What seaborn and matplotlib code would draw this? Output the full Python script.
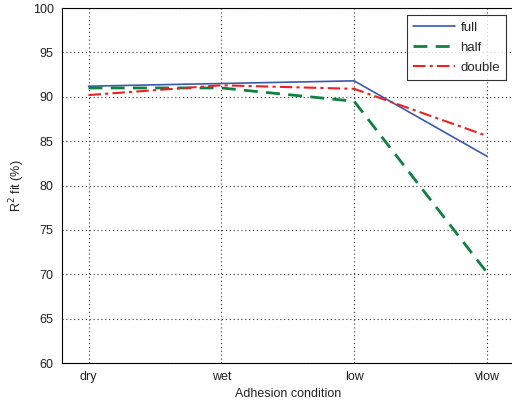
import pandas as pd
import matplotlib
matplotlib.use("Agg")
import matplotlib.pyplot as plt
import seaborn as sns

conditions = ["dry", "wet", "low", "vlow"]
full = [91.2, 91.5, 91.8, 83.3]
half = [91.0, 91.0, 89.5, 70.2]
double = [90.2, 91.3, 90.9, 85.6]

rows = []
for name, vals in [("full", full), ("half", half), ("double", double)]:
    for i, v in enumerate(vals):
        rows.append({"pos": i, "cond": conditions[i], "series": name, "value": v})
df = pd.DataFrame(rows)

sns.set_style("white")
plt.rcParams["font.family"] = ["Liberation Sans", "DejaVu Sans"]
plt.rcParams["font.size"] = 9

fig = plt.figure(figsize=(5.12, 4.03), dpi=100)
ax = fig.add_axes([0.121, 0.099, 0.882, 0.881])

palette = {"full": "#3a58b0", "half": "#0f8040", "double": "#ee2020"}
widths = {"full": 1.2, "half": 2.0, "double": 1.5}
styles = {"full": "-", "half": (0, (5, 3)), "double": (0, (6, 2, 1.5, 2))}

for name in ["full", "half", "double"]:
    sub = df[df["series"] == name]
    sns.lineplot(data=sub, x="pos", y="value", ax=ax, color=palette[name],
                 linewidth=widths[name], linestyle=styles[name], label=name)

ax.set_xlim(-0.2, 3.2)
ax.set_ylim(60, 100)
ax.set_xticks(range(len(conditions)))
ax.set_xticklabels(conditions)
ax.set_yticks(range(60, 101, 5))
ax.grid(True, color="#333333", linestyle=(0, (1, 2.5)), linewidth=0.8)
ax.tick_params(direction="in", length=4, color="black", labelcolor="#222222",
               labelsize=9, pad=6)
for s in ax.spines.values():
    s.set_color("black")
    s.set_linewidth(0.8)
ax.set_xlabel("Adhesion condition", fontsize=9, labelpad=3, color="#222222")
ax.set_ylabel("R$^2$ fit (%)", fontsize=9, labelpad=4, color="#222222")

leg = ax.legend(loc="upper right", bbox_to_anchor=(0.998, 0.998), frameon=True,
                fancybox=False, edgecolor="black", fontsize=9.5,
                handlelength=3.2, borderpad=0.45, labelspacing=0.6,
                handletextpad=0.4)
leg.get_frame().set_linewidth(0.8)

fig.savefig("out.png", dpi=100)
